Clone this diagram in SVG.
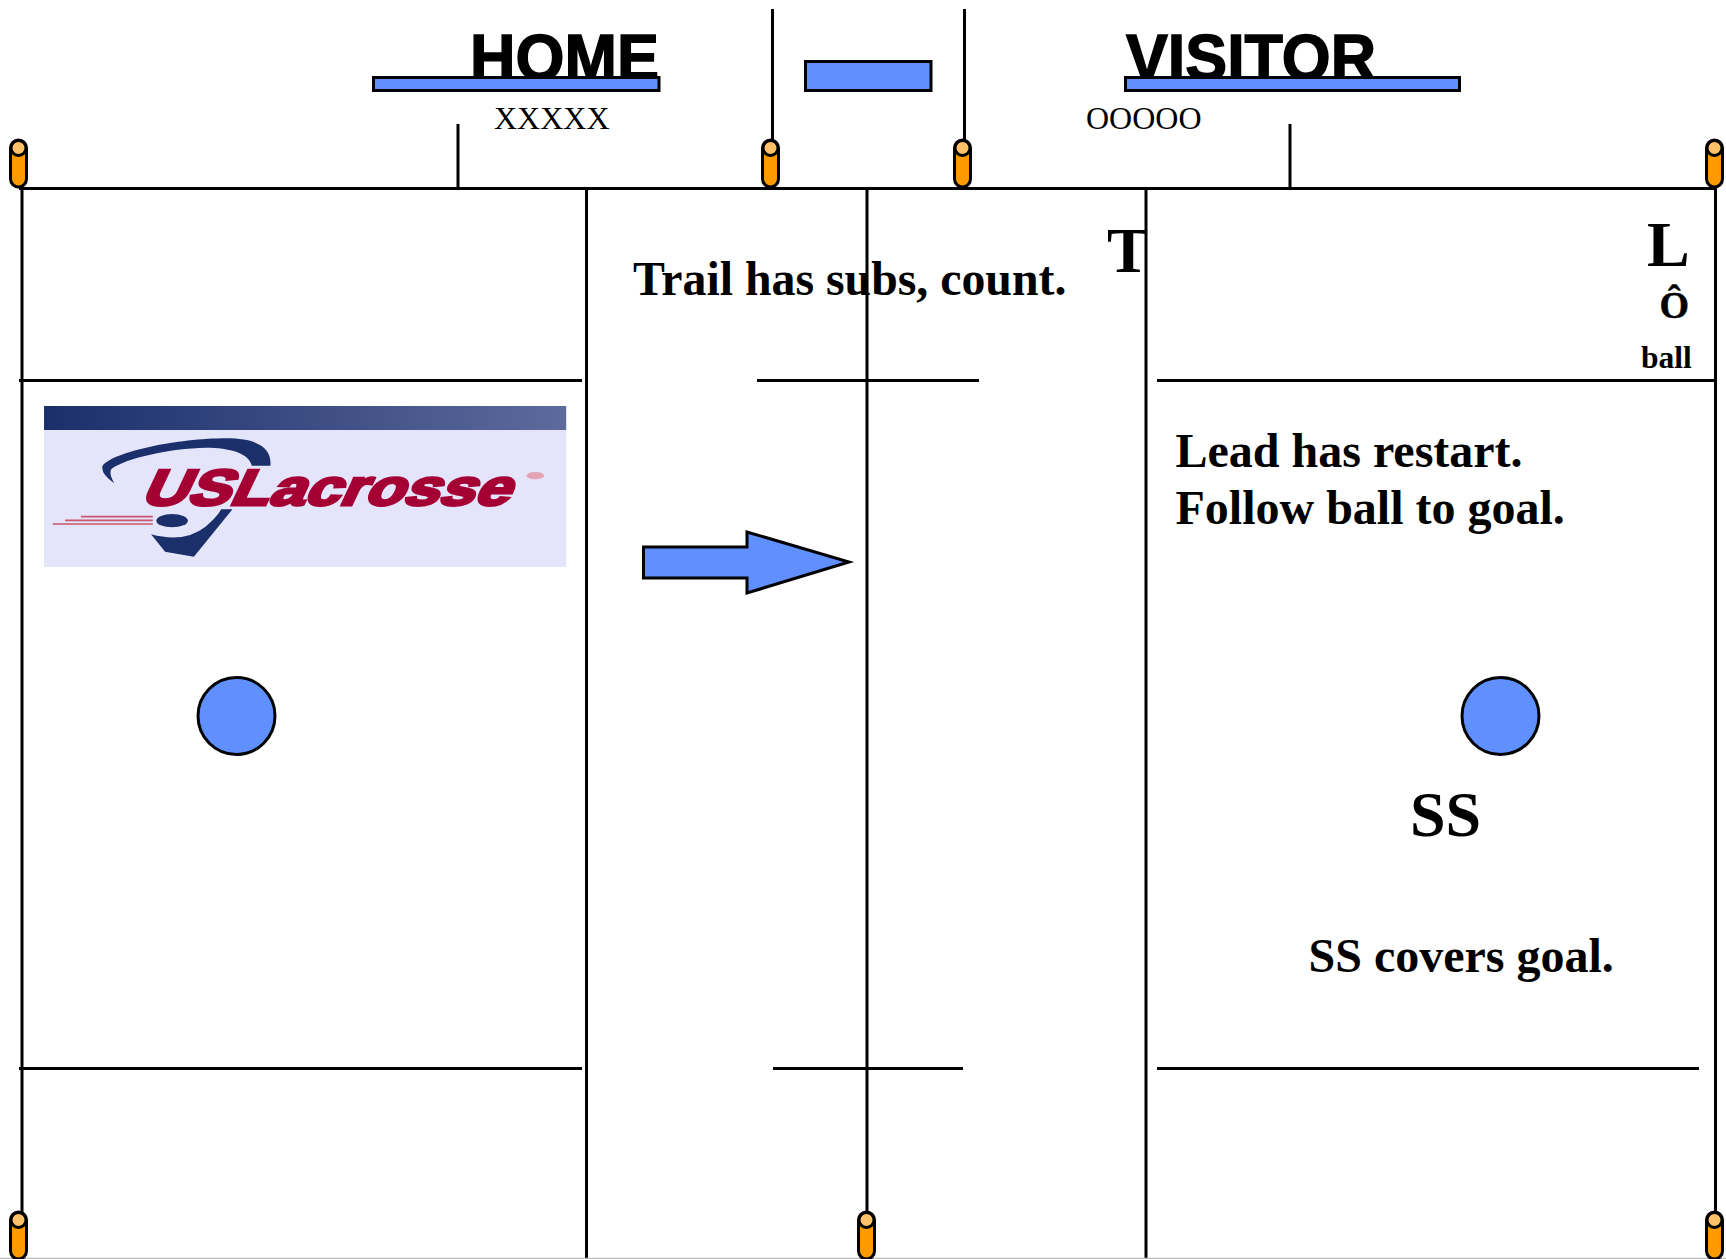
<svg xmlns="http://www.w3.org/2000/svg" width="1726" height="1259" viewBox="0 0 1726 1259">
<style>
.l{stroke:#000;stroke-width:3;fill:none}
.b{fill:#6090ff;stroke:#000;stroke-width:3}
.cb{fill:#ff9900;stroke:#000;stroke-width:3}
.ct{fill:#ffc266;stroke:#000;stroke-width:3}
.s{font-family:"Liberation Serif",serif;font-weight:bold;fill:#000}
.a{font-family:"Liberation Sans",Arial,sans-serif;font-weight:bold;fill:#000;stroke:#000;stroke-width:1.500;font-size:65px}
.t{font-family:"Liberation Serif",serif;fill:#000;font-size:32px}
</style>
<defs>
<linearGradient id="hdr"><stop offset="0" stop-color="#1b2f6b"/><stop offset="1" stop-color="#5d6a9c"/></linearGradient>
<clipPath id="tclip"><rect x="1090" y="200" width="56" height="90"/></clipPath>
<g id="cone"><rect class="cb" x="-8" y="0" width="16" height="47" rx="8"/><ellipse class="ct" cx="0" cy="8" rx="7.500" ry="7.500"/></g>
</defs>
<rect width="1726" height="1259" fill="#fff"/>
<g id="connectors">
<path class="l" d="M19 188.500H1716M22 188V1259M586.500 188V1259M867 188V1259M1146 188V1259M1715.500 188V1259"/>
<path class="l" d="M458 124V188M1290 124V188M772.500 9V142M964.500 9V142"/>
<path class="l" d="M19 380.500H582M757 380.500H979M1157 380.500H1714M19 1068.500H582M773 1068.500H963M1157 1068.500H1699"/>
<path d="M0 1258.500H1726" stroke="#bbb" stroke-width="1.500" fill="none"/>
</g>
<g id="home-title"><text class="a" x="470" y="80" textLength="189" lengthAdjust="spacingAndGlyphs">HOME</text><rect class="b" x="373.500" y="77.500" width="285.500" height="13"/></g>
<g id="visitor-title"><text class="a" x="1126" y="80" textLength="250" lengthAdjust="spacingAndGlyphs">VISITOR</text><rect class="b" x="1125.500" y="77.500" width="334" height="13"/></g>
<g id="score"><rect class="b" x="805.500" y="61.500" width="125.500" height="29"/></g>
<g id="home-team"><text class="t" x="494" y="129">XXXXX</text></g>
<g id="visitor-team"><text class="t" x="1086" y="129">OOOOO</text></g>
<g id="cones">
<use href="#cone" x="18.500" y="140"/><use href="#cone" x="770.500" y="140"/><use href="#cone" x="962.500" y="140"/><use href="#cone" x="1714.500" y="140"/>
<use href="#cone" x="18.500" y="1212"/><use href="#cone" x="866.500" y="1212"/><use href="#cone" x="1714.500" y="1212"/>
</g>
<g id="logo" transform="translate(30 395) scale(.3509 .3333)">
<rect x="40" y="33" width="1488" height="483" fill="#e4e4fb"/>
<rect x="40" y="33" width="1488" height="72" fill="url(#hdr)"/>
<path fill="#1b2f6b" d="M240 265Q200 235 207 212C240 170 420 130 560 130C650 130 690 160 685 212L632 212C625 175 570 158 500 158C400 160 270 190 232 222Q224 235 240 265Z"/>
<path fill="#1b2f6b" d="M577 343L467 485L385 470L345 418Q440 445 500 395Q530 370 545 343Z"/>
<ellipse cx="405" cy="377" rx="45" ry="20" fill="#1b2f6b"/>
<path stroke="#c9556f" stroke-width="5" fill="none" d="M145 365H350M100 376H350M65 387H350"/>
<text transform="translate(312 330) skewX(-24)" x="0" y="0" font-family="Liberation Sans,Arial,sans-serif" font-weight="bold" font-size="152" fill="#a50034" stroke="#a50034" stroke-width="9" textLength="1050" lengthAdjust="spacingAndGlyphs">USLacrosse</text>
<ellipse cx="1440" cy="242" rx="25" ry="11" fill="#e3a3b5"/>
</g>
<g id="arrow"><path class="b" d="M643.500 547H747V532L849 562L747 593V578H643.500Z"/></g>
<g id="circle-left"><circle class="b" cx="236.500" cy="716" r="38.500"/></g>
<g id="circle-right"><circle class="b" cx="1500.500" cy="716" r="38.500"/></g>
<g id="labels">
<text class="s" x="633" y="295" font-size="47.800">Trail has subs, count.</text>
<text class="s" x="1107" y="272" font-size="64" clip-path="url(#tclip)">T</text>
<text class="s" x="1647" y="266" font-size="64">L</text>
<text class="s" x="1659.500" y="318" font-size="38" stroke="#000" stroke-width=".5">Ô</text>
<text class="s" x="1641" y="368" font-size="31.500">ball</text>
<text class="s" x="1175.500" y="467" font-size="48">Lead has restart.</text>
<text class="s" x="1175.500" y="524" font-size="48">Follow ball to goal.</text>
<text class="s" x="1410" y="836" font-size="64">SS</text>
<text class="s" x="1308.500" y="972" font-size="48">SS covers goal.</text>
</g>
</svg>
